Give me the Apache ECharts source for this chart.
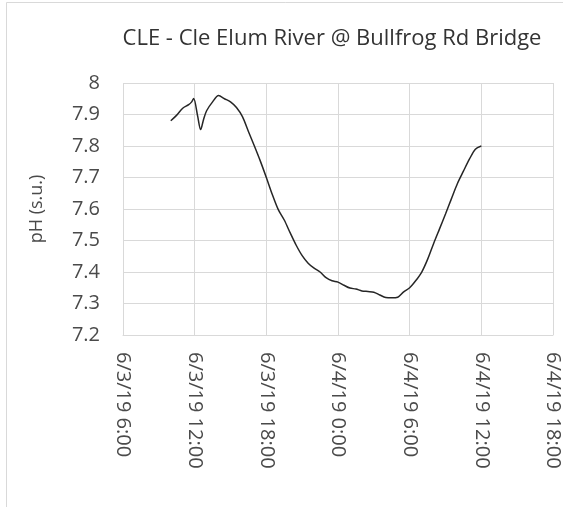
<!DOCTYPE html>
<html>
<head>
<meta charset="utf-8">
<style>
    html, body { margin: 0; padding: 0; background: #fff; }
    #chart { width: 563px; height: 507px; }
</style>
<script src="https://cdn.jsdelivr.net/npm/echarts@6/dist/echarts.min.js"></script>
</head>
<body>
<div id="chart"></div>
<script>
// readings (6/3/19 10:00 -> 6/4/19 12:00)
const times = [
    '6/3/19 10:00', '6/3/19 10:30', '6/3/19 11:00', '6/3/19 11:30', '6/3/19 11:45',
    '6/3/19 11:55', '6/3/19 12:15', '6/3/19 12:30', '6/3/19 12:45', '6/3/19 13:00',
    '6/3/19 13:30', '6/3/19 14:00', '6/3/19 14:30', '6/3/19 15:00', '6/3/19 15:30',
    '6/3/19 16:00', '6/3/19 16:30', '6/3/19 17:00', '6/3/19 17:30', '6/3/19 18:00',
    '6/3/19 18:30', '6/3/19 19:00', '6/3/19 19:30', '6/3/19 20:00', '6/3/19 20:30',
    '6/3/19 21:00', '6/3/19 21:30', '6/3/19 22:00', '6/3/19 22:30', '6/3/19 23:00',
    '6/3/19 23:30', '6/4/19 0:00', '6/4/19 0:30', '6/4/19 1:00', '6/4/19 1:30',
    '6/4/19 2:00', '6/4/19 2:30', '6/4/19 3:00', '6/4/19 3:30', '6/4/19 4:00',
    '6/4/19 4:30', '6/4/19 5:00', '6/4/19 5:30', '6/4/19 6:00', '6/4/19 6:30',
    '6/4/19 7:00', '6/4/19 7:30', '6/4/19 8:00', '6/4/19 8:30', '6/4/19 9:00',
    '6/4/19 9:30', '6/4/19 10:00', '6/4/19 10:30', '6/4/19 11:00', '6/4/19 11:30',
    '6/4/19 12:00'
];
const ph = [
    7.880, 7.898, 7.920, 7.931, 7.940,
    7.951, 7.895, 7.852, 7.885, 7.912,
    7.940, 7.960, 7.950, 7.940, 7.922,
    7.893, 7.846, 7.800, 7.752, 7.700,
    7.646, 7.598, 7.565, 7.524, 7.485,
    7.452, 7.428, 7.412, 7.400, 7.382,
    7.372, 7.368, 7.358, 7.349, 7.346,
    7.340, 7.338, 7.336, 7.327, 7.319,
    7.318, 7.320, 7.337, 7.350, 7.372,
    7.399, 7.440, 7.490, 7.537, 7.584,
    7.633, 7.681, 7.720, 7.758, 7.790,
    7.800
];
const yTicks = [7.2, 7.3, 7.4, 7.5, 7.6, 7.7, 7.8, 7.9, 8];

const HOUR = 3600 * 1000;

// '6/3/19 10:00' -> utc ms
function parseTime(s) {
    let [d, t] = s.split(' ');
    let [m, day, y] = d.split('/').map(Number);
    let [hh, mm] = t.split(':').map(Number);
    return Date.UTC(2000 + y, m - 1, day, hh, mm);
}

function fmtTime(v) {
    let d = new Date(v);
    let mm = d.getUTCMinutes();
    return (d.getUTCMonth() + 1) + '/' + d.getUTCDate() + '/' + String(d.getUTCFullYear()).slice(2) +
        ' ' + d.getUTCHours() + ':' + (mm < 10 ? '0' + mm : mm);
}

const chart = echarts.init(document.getElementById('chart'));
const gray = '#4a4a4a';
const font = '"Open Sans", sans-serif';

chart.setOption({
    animation: false,
    backgroundColor: '#fff',
    title: {
        text: 'CLE - Cle Elum River @ Bullfrog Rd Bridge',
        left: 327,
        top: 23,
        textAlign: 'center',
        textStyle: { color: '#333', fontSize: 22, fontWeight: 'normal', fontFamily: font }
    },
    graphic: [{
        type: 'rect',
        shape: { x: 6.5, y: 2.5, width: 600, height: 600 },
        style: { fill: 'none', stroke: '#d9d9d9', lineWidth: 1 },
        silent: true
    }],
    grid: { left: 123, right: 10, top: 83, bottom: 172 },
    xAxis: {
        type: 'value',
        min: parseTime('6/3/19 6:00'),
        max: parseTime('6/4/19 18:00'),
        interval: 6 * HOUR,
        axisLine: { show: true, lineStyle: { color: '#d9d9d9' } },
        axisTick: { show: false },
        splitLine: { show: true, lineStyle: { color: '#d9d9d9', width: 1 } },
        axisLabel: {
            rotate: -90,
            margin: 17,
            color: gray,
            fontSize: 20,
            fontFamily: font,
            formatter: fmtTime,
            showMinLabel: true,
            showMaxLabel: true
        }
    },
    yAxis: {
        type: 'value',
        min: yTicks[0],
        max: yTicks[yTicks.length - 1],
        interval: 0.1,
        name: 'pH (s.u.)',
        nameLocation: 'middle',
        nameGap: 77,
        nameRotate: 90,
        nameTextStyle: { color: gray, fontSize: 18, fontFamily: font },
        axisLine: { show: false },
        axisTick: { show: false },
        splitLine: { show: true, lineStyle: { color: '#d9d9d9', width: 1 } },
        axisLabel: {
            margin: 23,
            color: gray,
            fontSize: 20,
            fontFamily: font,
            formatter: v => String(Math.round(v * 10) / 10)
        }
    },
    series: [{
        type: 'line',
        data: times.map((t, i) => [parseTime(t), ph[i]]),
        showSymbol: false,
        smooth: 0.3,
        lineStyle: { color: '#262626', width: 1.5 }
    }]
});
</script>
</body>
</html>
